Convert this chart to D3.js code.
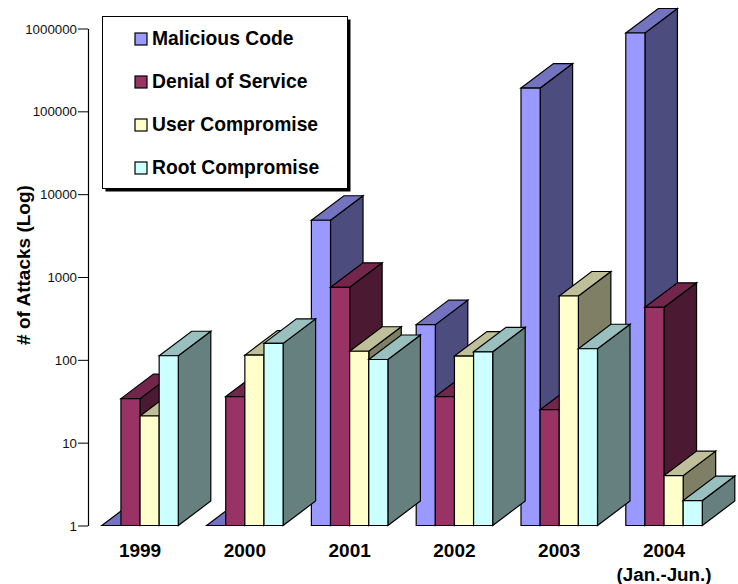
<!DOCTYPE html>
<html><head><meta charset="utf-8">
<script src="https://cdn.jsdelivr.net/npm/d3@7"></script>
<style>html,body{margin:0;padding:0;background:#fff}svg{display:block}text{font-family:"Liberation Sans",Arial,sans-serif}</style>
</head><body><svg id="c" width="738" height="584"></svg>
<script>
const years = ["1999","2000","2001","2002","2003","2004"];
const seriesNames = ["Malicious Code","Denial of Service","User Compromise","Root Compromise"];
const malicious = [1,1,4840,266,191000,883000];
const dos = [34,36,750,36,25,431];
const user = [21,114,127,111,590,4];
const root = [112,158,101,125,136,2];
const yTicks = [1,10,100,1000,10000,100000,1000000];
const frontColors = ["#9999FF","#993366","#FFFFCC","#CCFFFF"];
const topColors = ["#7373BF","#73264C","#BFBF99","#99BFBF"];
const sideColors = ["#4C4C7F","#4C1933","#7F7F66","#668080"];
const allSeries = [malicious,dos,user,root];

const svg = d3.select("#c");
const y = d3.scaleLog().domain([1,1000000]).range([525.5,28.5]);
const x0 = d3.scaleBand().domain(years).range([101.8,101.8+104.8*6]);
const x1 = d3.scaleBand().domain(seriesNames).range([0,76.5]);
const dx = 32.5, dy = -24.5;

// y axis
const yAxis = d3.axisLeft(y).tickValues(yTicks).tickFormat(d3.format("d")).tickSize(10).tickSizeOuter(0);
const ax = svg.append("g").attr("transform","translate(88,0)").call(yAxis);
ax.select(".domain").attr("stroke","#000").attr("stroke-width",1.2);
ax.selectAll(".tick line").attr("stroke","#000").attr("stroke-width",1);
ax.selectAll(".tick text").attr("font-size",13.3).attr("fill","#111").attr("font-family",'"Liberation Sans",Arial,sans-serif').attr("x",-11).attr("dy","0.34em");

svg.append("text").attr("transform","translate(30,265) rotate(-90)").attr("text-anchor","middle")
  .attr("font-size",19).attr("font-weight","bold").text("# of Attacks (Log)");

// bars
const stroke = {stroke:"#000","stroke-width":1.2,"stroke-linejoin":"miter"};
function poly(sel,pts,fill){
  const p = sel.append("polygon").attr("points",pts.map(d=>d.join(",")).join(" ")).attr("fill",fill);
  for (const k in stroke) p.attr(k,stroke[k]);
}
const gBars = svg.append("g");
seriesNames.forEach((name,si)=>{
  years.forEach((yr,yi)=>{
    const v = allSeries[si][yi];
    const l = x0(yr)+x1(name), r = l+x1.bandwidth(), t = y(v), b = y(1);
    const g = gBars.append("g");
    poly(g,[[r,t],[r+dx,t+dy],[r+dx,b+dy],[r,b]],sideColors[si]);
    poly(g,[[l,t],[l+dx,t+dy],[r+dx,t+dy],[r,t]],topColors[si]);
    poly(g,[[l,t],[r,t],[r,b],[l,b]],frontColors[si]);
  });
});

// x labels
years.forEach(yr=>{
  svg.append("text").attr("x",x0(yr)+38.25).attr("y",556.5).attr("text-anchor","middle")
    .attr("font-size",19).attr("font-weight","bold").text(yr);
});
svg.append("text").attr("x",x0("2004")+38.25).attr("y",580.5).attr("text-anchor","middle")
  .attr("font-size",18.8).attr("font-weight","bold").text("(Jan.-Jun.)");

// legend
svg.append("rect").attr("x",105.5).attr("y",19.5).attr("width",245).attr("height",172).attr("fill","#000");
svg.append("rect").attr("x",102.5).attr("y",16.5).attr("width",245).attr("height",172).attr("fill","#fff").attr("stroke","#000").attr("stroke-width",1);
seriesNames.forEach((name,i)=>{
  const cy = 39+43*i;
  svg.append("rect").attr("x",135).attr("y",cy-6).attr("width",12).attr("height",12)
    .attr("fill",frontColors[i]).attr("stroke","#000").attr("stroke-width",1.2);
  svg.append("text").attr("x",152).attr("y",cy+6.3).attr("font-size",19.3).attr("font-weight","bold").text(name);
});
</script></body></html>
